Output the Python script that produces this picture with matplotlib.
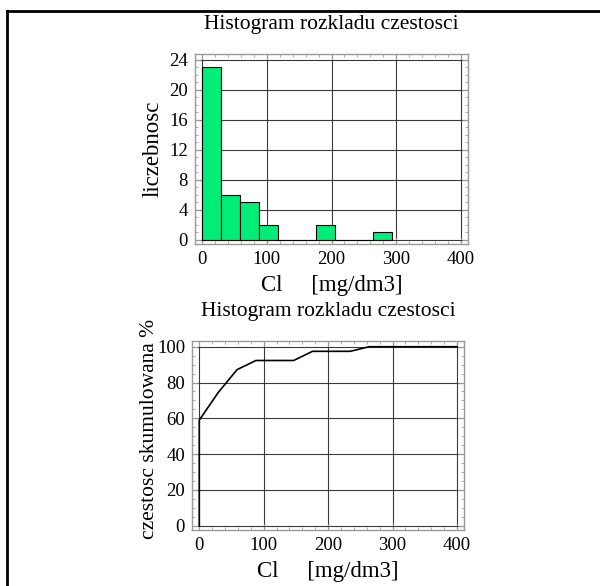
import numpy as np
import matplotlib
matplotlib.use("Agg")
import matplotlib.pyplot as plt
from matplotlib.ticker import MultipleLocator
from matplotlib.lines import Line2D

plt.rcParams['font.family'] = ['Liberation Serif', 'DejaVu Serif']

# Data
title = "Histogram rozkladu czestosci"
xlabel = "Cl     [mg/dm3]"
ylabel_top = "liczebnosc"
ylabel_bottom = "czestosc skumulowana %"
bin_width = 29.3
counts = [23, 6, 5, 2, 0, 0, 2, 0, 0, 1]
x_ticks = [0, 100, 200, 300, 400]
y_ticks_top = [0, 4, 8, 12, 16, 20, 24]
y_ticks_bottom = [0, 20, 40, 60, 80, 100]
x_end = 400

counts_arr = np.array(counts, dtype=float)
edges = np.arange(len(counts) + 1) * bin_width
cum = np.cumsum(counts_arr) / counts_arr.sum() * 100
cum_x = np.concatenate([[0], edges[:-1], [x_end]])
cum_y = np.concatenate([[0], cum, [100]])

W, H = 600, 586
fig = plt.figure(figsize=(W / 100, H / 100), dpi=100)

def px(x0, y0, x1, y1):
    return [x0 / W, 1 - y1 / H, (x1 - x0) / W, (y1 - y0) / H]

frame_col = '#9a9a9a'
grid_col = '#3a3a3a'

def style(ax, minor_x, minor_y):
    for s in ax.spines.values():
        s.set_color(frame_col)
        s.set_linewidth(1.0)
    ax.xaxis.set_minor_locator(MultipleLocator(minor_x))
    ax.yaxis.set_minor_locator(MultipleLocator(minor_y))
    ax.tick_params(which='both', direction='in', top=True, right=True,
                   colors=frame_col, labelcolor='black', labelsize=13.5,
                   pad=5)
    ax.tick_params(which='major', length=4, width=0.8)
    ax.tick_params(which='minor', length=2, width=0.6)
    ax.grid(True, which='major', color=grid_col, linewidth=0.8)
    ax.set_axisbelow(True)

# Top histogram
ax1 = fig.add_axes(px(195, 54, 468, 244))
ax1.bar(edges[:-1], counts_arr, width=bin_width, align='edge',
        color='#00EE77', edgecolor='black', linewidth=0.8, zorder=3)
ax1.set_xlim(-11.3, 411.3)
ax1.set_ylim(-0.55, 24.8)
ax1.set_xticks(x_ticks)
ax1.set_yticks(y_ticks_top)
style(ax1, 20, 1)
ax1.set_title(title, fontsize=15.5, pad=18)
ax1.set_xlabel(xlabel, fontsize=16.5, labelpad=5)
ax1.set_ylabel(ylabel_top, fontsize=16.5, labelpad=4)

# Bottom cumulative
ax2 = fig.add_axes(px(192, 341, 464, 530))
ax2.plot(cum_x, cum_y, color='black', linewidth=1.2, zorder=3)
ax2.set_xlim(-11.3, 411.0)
ax2.set_ylim(-2.4, 103.2)
ax2.set_xticks(x_ticks)
ax2.set_yticks(y_ticks_bottom)
style(ax2, 20, 5)
ax2.set_title(title, fontsize=15.5, pad=18)
ax2.set_xlabel(xlabel, fontsize=16.5, labelpad=5)
ax2.set_ylabel(ylabel_bottom, fontsize=15.5)
ax2.yaxis.set_label_coords(-0.12, 0.535)

# Page border (top and left)
fig.add_artist(Line2D([7 / W, 1], [1 - 11 / H, 1 - 11 / H],
                      transform=fig.transFigure, color='black', linewidth=2))
fig.add_artist(Line2D([7 / W, 7 / W], [0, 1 - 11 / H],
                      transform=fig.transFigure, color='black', linewidth=2))

fig.savefig("out.png", dpi=100)
